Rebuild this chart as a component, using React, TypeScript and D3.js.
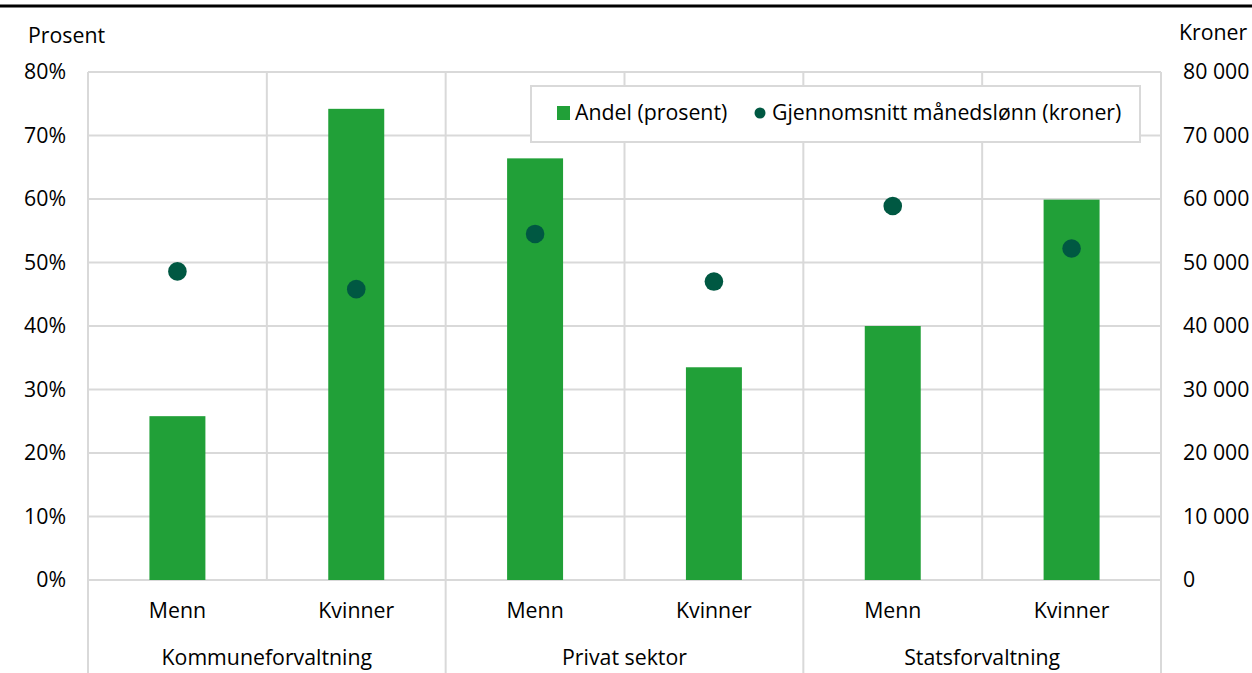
import React from "react";
import * as d3 from "d3";

const groups = ["Kommuneforvaltning", "Privat sektor", "Statsforvaltning"];
const genders = ["Menn", "Kvinner"];
const andel = [25.8, 74.2, 66.4, 33.5, 40.0, 59.9];
const lonn = [48600, 45800, 54500, 47000, 58900, 52200];
const leftTicks = [0, 10, 20, 30, 40, 50, 60, 70, 80];
const rightTicks = [0, 10000, 20000, 30000, 40000, 50000, 60000, 70000, 80000];

const W = 1252, H = 673;
const L = 88, R = 1161, T = 72, B = 580;
const FONT = "'Open Sans', 'Noto Sans', sans-serif";
const FS = 21.3;
const BAR = "#21a038";
const DOT = "#005842";
const GRID = "#d9d9d9";

export default function App() {
  const keys = groups.flatMap((g) => genders.map((s) => `${g}|${s}`));
  const x = d3.scaleBand<string>().domain(keys).range([L, R]).padding(0);
  const gx = d3.scaleBand<string>().domain(groups).range([L, R]).padding(0);
  const yL = d3.scaleLinear().domain([0, 80]).range([B, T]);
  const yR = d3.scaleLinear().domain([0, 80000]).range([B, T]);
  const bw = x.bandwidth() * 0.313;
  const fmtR = (v: number) => (v === 0 ? "0" : d3.format(",")(v).replace(/,/g, " "));

  return (
    <svg width={W} height={H} style={{ position: "absolute", left: 0, top: 0, background: "#fff" }} fontFamily={FONT}>
      <line x1={0} x2={W} y1={6} y2={6} stroke="#000" strokeWidth={3} />
      {leftTicks.map((t) => (
        <line key={"g" + t} x1={L} x2={R} y1={yL(t)} y2={yL(t)} stroke={GRID} strokeWidth={2} />
      ))}
      {keys.map((k, i) => (
        <line key={"v" + k} x1={x(k)!} x2={x(k)!} y1={T} y2={i % 2 === 0 ? H : B} stroke={GRID} strokeWidth={2} />
      ))}
      <line x1={R} x2={R} y1={T} y2={H} stroke={GRID} strokeWidth={2} />
      {keys.map((k, i) => (
        <rect key={"b" + k} x={x(k)! + x.bandwidth() / 2 - bw / 2} y={yL(andel[i])} width={bw} height={B - yL(andel[i])} fill={BAR} />
      ))}
      {keys.map((k, i) => (
        <circle key={"c" + k} cx={x(k)! + x.bandwidth() / 2} cy={yR(lonn[i])} r={9.3} fill={DOT} />
      ))}
      {leftTicks.map((t) => (
        <text key={"l" + t} x={66} y={yL(t)} dy="0.35em" textAnchor="end" fontSize={FS} fill="#000">{t}%</text>
      ))}
      {rightTicks.map((t) => (
        <text key={"r" + t} x={1183} y={yR(t)} dy="0.35em" textAnchor="start" fontSize={FS} fill="#000">{fmtR(t)}</text>
      ))}
      <text x={28} y={36} dy="0.35em" fontSize={FS} fill="#000">Prosent</text>
      <text x={1179} y={33} dy="0.35em" fontSize={FS} fill="#000">Kroner</text>
      {keys.map((k) => (
        <text key={"t" + k} x={x(k)! + x.bandwidth() / 2} y={611} dy="0.35em" textAnchor="middle" fontSize={FS} fill="#000">{k.split("|")[1]}</text>
      ))}
      {groups.map((g) => (
        <text key={"gg" + g} x={gx(g)! + gx.bandwidth() / 2} y={658} dy="0.35em" textAnchor="middle" fontSize={FS} fill="#000">{g}</text>
      ))}
      <rect x={531} y={86} width={609} height={56} fill="#fff" stroke={GRID} strokeWidth={2} />
      <rect x={557} y={106} width={13} height={14} fill={BAR} />
      <text x={575} y={113} dy="0.35em" fontSize={FS} fill="#000">Andel (prosent)</text>
      <circle cx={760} cy={113} r={5.5} fill={DOT} />
      <text x={772} y={113} dy="0.35em" fontSize={FS} fill="#000">Gjennomsnitt månedslønn (kroner)</text>
    </svg>
  );
}
